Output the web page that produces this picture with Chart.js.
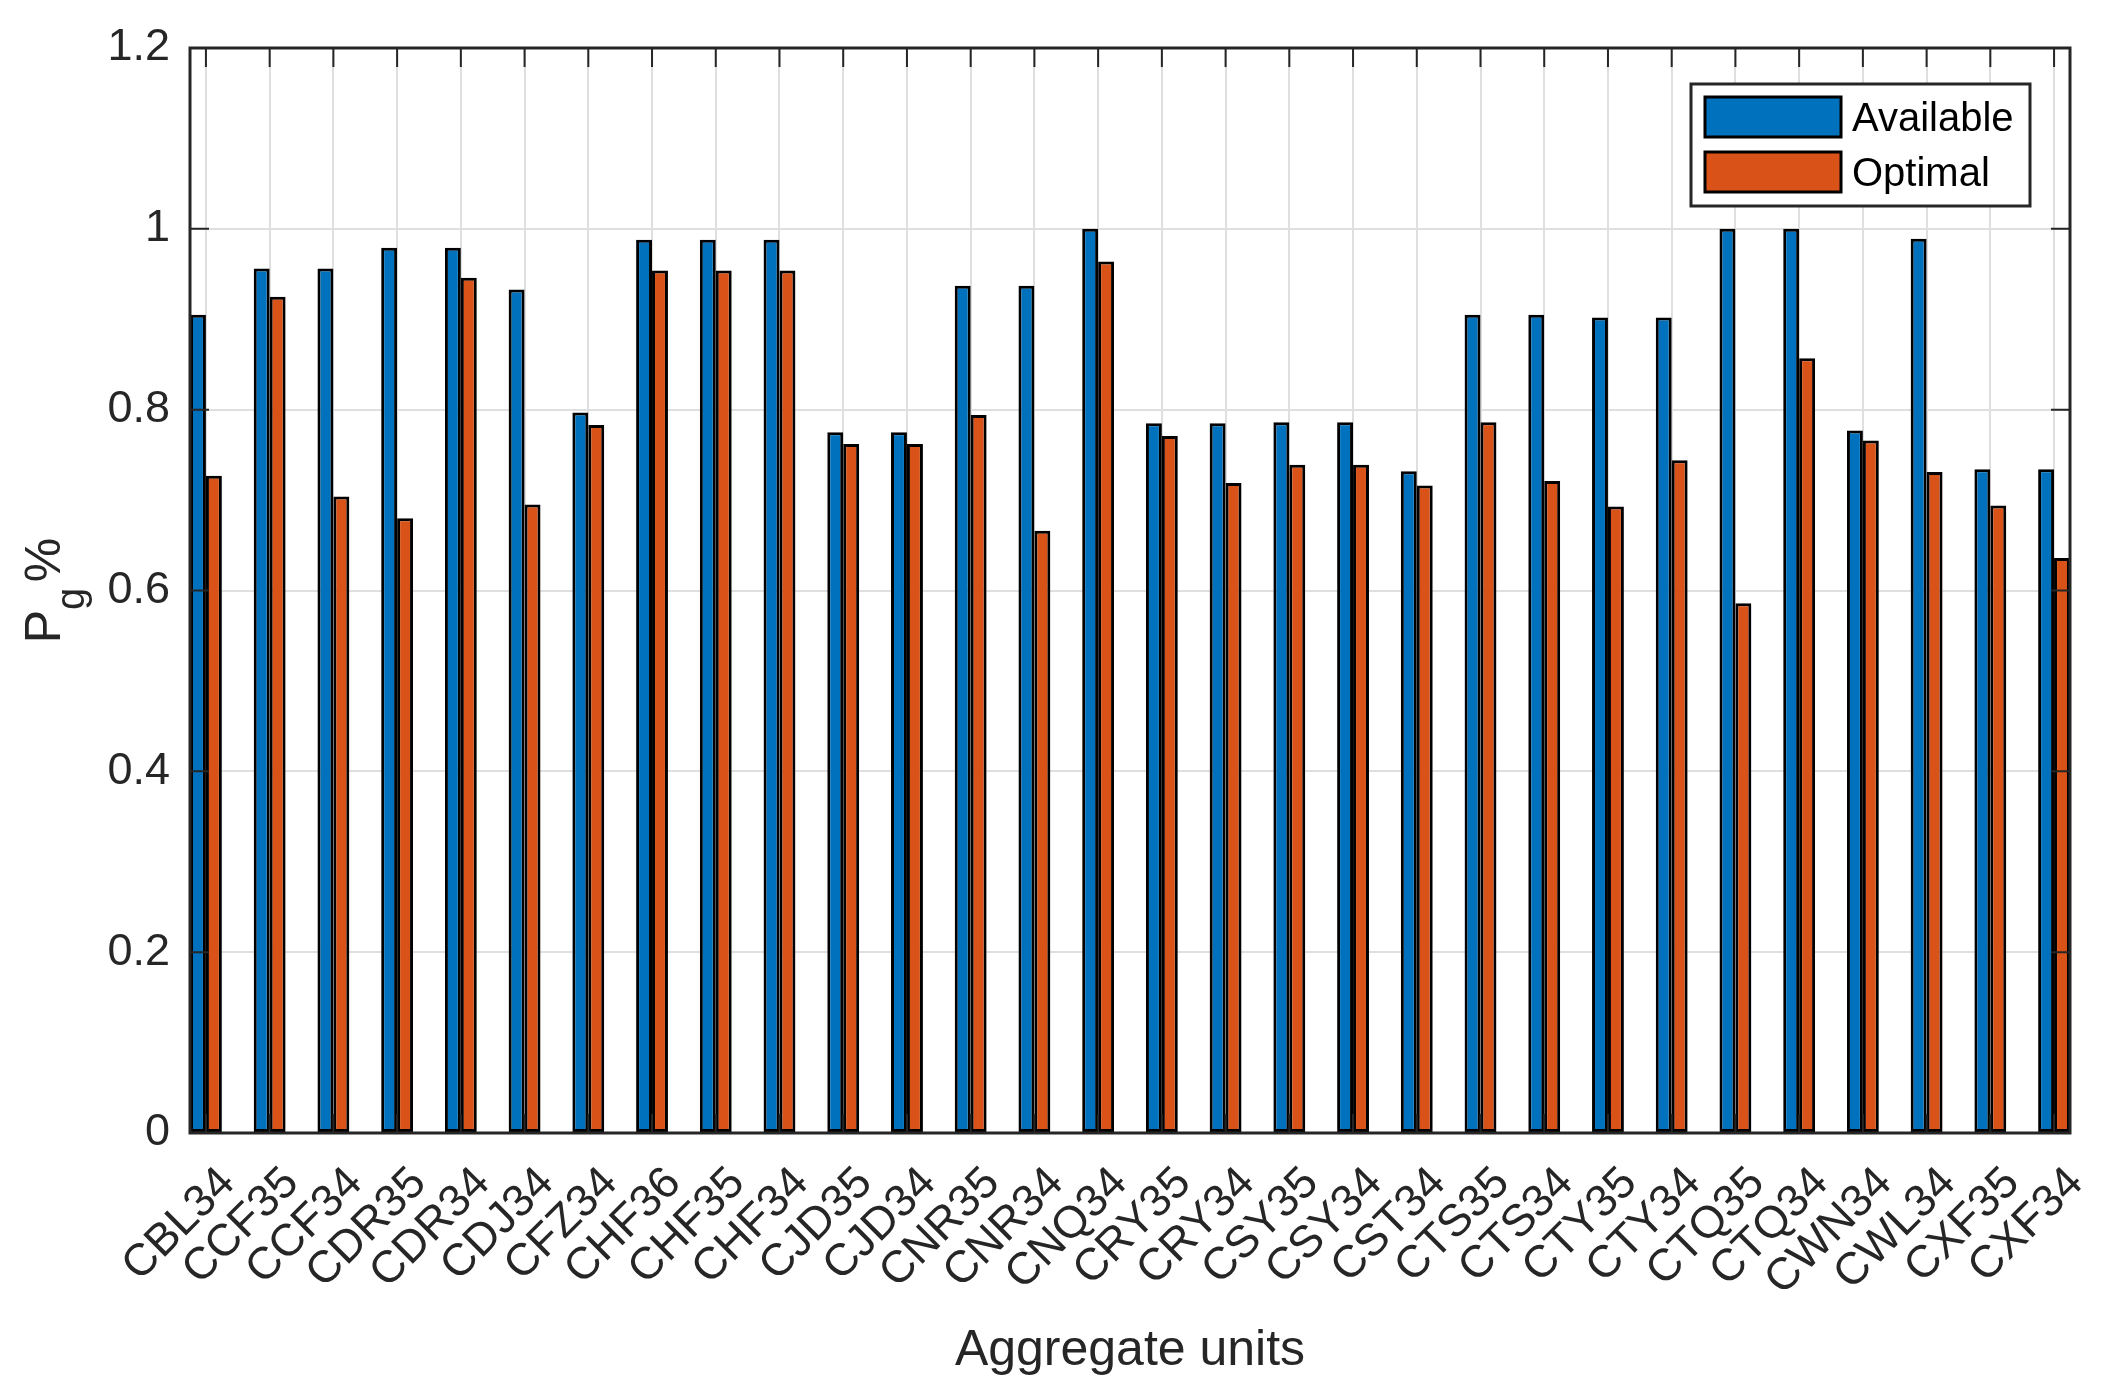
<!DOCTYPE html>
<html>
<head>
<meta charset="utf-8">
<title>Aggregate units</title>
<script src="https://cdn.jsdelivr.net/npm/chart.js@4.4.0/dist/chart.umd.min.js"></script>
<style>
  html, body { margin: 0; padding: 0; background: #fff; }
  #wrap { width: 2128px; height: 1390px; }
</style>
</head>
<body>
<div id="wrap"><canvas id="barChart"></canvas></div>
<script>
// 機組名稱與數值
const categories = ['CBL34', 'CCF35', 'CCF34', 'CDR35', 'CDR34', 'CDJ34', 'CFZ34', 'CHF36', 'CHF35', 'CHF34',
    'CJD35', 'CJD34', 'CNR35', 'CNR34', 'CNQ34', 'CRY35', 'CRY34', 'CSY35', 'CSY34', 'CST34',
    'CTS35', 'CTS34', 'CTY35', 'CTY34', 'CTQ35', 'CTQ34', 'CWN34', 'CWL34', 'CXF35', 'CXF34'];
const availableValues = [0.905, 0.956, 0.956, 0.979, 0.979, 0.933, 0.797, 0.988, 0.988, 0.988,
    0.775, 0.775, 0.937, 0.937, 1.000, 0.785, 0.785, 0.786, 0.786, 0.732,
    0.905, 0.905, 0.902, 0.902, 1.000, 1.000, 0.777, 0.989, 0.734, 0.734];
const optimalValues = [0.727, 0.925, 0.704, 0.680, 0.946, 0.695, 0.783, 0.954, 0.954, 0.954,
    0.762, 0.762, 0.794, 0.666, 0.964, 0.771, 0.719, 0.739, 0.739, 0.716,
    0.786, 0.721, 0.693, 0.744, 0.586, 0.857, 0.766, 0.731, 0.694, 0.636];
const yTickLabels = ['0', '0.2', '0.4', '0.6', '0.8', '1', '1.2'];
const seriesNames = ['Available', 'Optimal'];

const FONT = '"Liberation Sans", Arial, Helvetica, sans-serif';
const INK = '#262626';
const BLUE = '#0072BD';
const ORANGE = '#D95319';
const GRID = '#dfdfdf';

// 座標框、內側刻度、座標標題與圖例
const matlabAxes = {
    id: 'matlabAxes',
    afterDraw(chart) {
        const ctx = chart.ctx;
        const a = chart.chartArea;
        const xs = chart.scales.x;
        const ys = chart.scales.y;
        const tl = 19;
        ctx.save();

        // 刻度（朝內）
        ctx.strokeStyle = INK;
        ctx.lineWidth = 2;
        ctx.beginPath();
        ys.ticks.forEach(t => {
            const y = ys.getPixelForValue(t.value);
            ctx.moveTo(a.left, y); ctx.lineTo(a.left + tl, y);
            ctx.moveTo(a.right, y); ctx.lineTo(a.right - tl, y);
        });
        xs.ticks.forEach(t => {
            const x = xs.getPixelForValue(t.value);
            ctx.moveTo(x, a.top); ctx.lineTo(x, a.top + tl);
            ctx.moveTo(x, a.bottom); ctx.lineTo(x, a.bottom - tl);
        });
        ctx.stroke();

        // 外框
        ctx.lineWidth = 3;
        ctx.strokeRect(a.left, a.top, a.right - a.left, a.bottom - a.top);

        // x 軸標題
        ctx.fillStyle = INK;
        ctx.font = '50px ' + FONT;
        ctx.textAlign = 'center';
        ctx.textBaseline = 'alphabetic';
        ctx.fillText('Aggregate units', (a.left + a.right) / 2, 1365);

        // y 軸標題 P_g %
        ctx.save();
        ctx.translate(60, (a.top + a.bottom) / 2);
        ctx.rotate(-Math.PI / 2);
        ctx.textAlign = 'left';
        ctx.font = '50px ' + FONT;
        const wP = ctx.measureText('P').width;
        const wSp = ctx.measureText(' ').width * 0.4;
        const wPct = ctx.measureText('%').width;
        ctx.font = '40px ' + FONT;
        const wg = ctx.measureText('g').width;
        const start = -(wP + wg + wSp + wPct) / 2;
        ctx.font = '50px ' + FONT;
        ctx.fillText('P', start, 0);
        ctx.fillText('%', start + wP + wg + wSp, 0);
        ctx.font = '40px ' + FONT;
        ctx.fillText('g', start + wP, 24);
        ctx.restore();

        // 圖例
        const lx = a.right - 379, ly = a.top + 36, lw = 339, lh = 122;
        ctx.fillStyle = '#fff';
        ctx.fillRect(lx, ly, lw, lh);
        ctx.strokeStyle = INK;
        ctx.lineWidth = 3;
        ctx.strokeRect(lx, ly, lw, lh);
        const colors = [BLUE, ORANGE];
        seriesNames.forEach((name, i) => {
            const sy = ly + 13 + i * 55;
            ctx.fillStyle = colors[i];
            ctx.fillRect(lx + 14, sy, 136, 40);
            ctx.strokeStyle = '#000';
            ctx.strokeRect(lx + 14, sy, 136, 40);
            ctx.fillStyle = '#000';
            ctx.font = '40px ' + FONT;
            ctx.textAlign = 'left';
            ctx.textBaseline = 'alphabetic';
            ctx.fillText(name, lx + 161, sy + 34);
        });
        ctx.restore();
    }
};

function initChart() {
    const ctx = document.getElementById('barChart').getContext('2d');
    const toPoints = arr => arr.map((v, i) => ({ x: i + 1, y: v }));
    new Chart(ctx, {
        type: 'bar',
        data: {
            datasets: [
                {
                    label: seriesNames[0],
                    data: toPoints(availableValues),
                    backgroundColor: BLUE,
                    borderColor: '#000',
                    borderWidth: 3,
                    borderSkipped: false
                },
                {
                    label: seriesNames[1],
                    data: toPoints(optimalValues),
                    backgroundColor: ORANGE,
                    borderColor: '#000',
                    borderWidth: 3,
                    borderSkipped: false
                }
            ]
        },
        options: {
            responsive: true,
            maintainAspectRatio: false,
            devicePixelRatio: 1,
            animation: false,
            categoryPercentage: 0.5,
            barPercentage: 1.0,
            layout: {
                padding: { left: 0, top: 48, right: 58, bottom: 0 }
            },
            plugins: {
                legend: { display: false },
                tooltip: { enabled: false }
            },
            scales: {
                x: {
                    type: 'linear',
                    offset: false,
                    bounds: 'data',
                    min: 0.75,
                    max: categories.length + 0.25,
                    // 每個機組一個刻度
                    afterBuildTicks: s => { s.ticks = categories.map((c, i) => ({ value: i + 1 })); },
                    afterFit: s => { s.height = 257; },
                    grid: { color: GRID, lineWidth: 2, drawTicks: false, offset: false },
                    border: { display: false },
                    ticks: {
                        autoSkip: false,
                        minRotation: 45,
                        maxRotation: 45,
                        padding: 24,
                        labelOffset: 22,
                        color: INK,
                        font: { family: FONT, size: 45 },
                        callback: v => categories[Math.round(v) - 1]
                    }
                },
                y: {
                    min: 0,
                    max: 1.2,
                    afterFit: s => { s.width = 190; },
                    grid: { color: GRID, lineWidth: 2, drawTicks: false },
                    border: { display: false },
                    ticks: {
                        stepSize: 0.2,
                        padding: 20,
                        color: INK,
                        font: { family: FONT, size: 45 },
                        callback: (v, i) => yTickLabels[i]
                    }
                }
            }
        },
        plugins: [matlabAxes]
    });
}

window.addEventListener('load', initChart);
</script>
</body>
</html>
